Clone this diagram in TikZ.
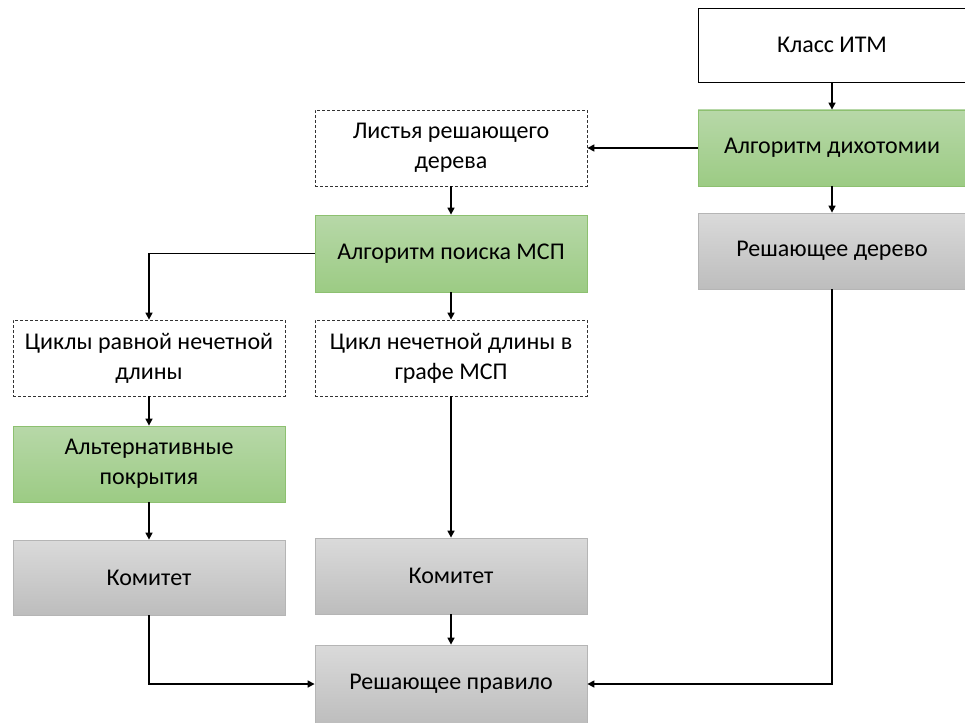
\documentclass[tikz,border=0pt]{standalone}
\usepackage{fontspec}
\setmainfont{Carlito}
\usetikzlibrary{arrows.meta}
\definecolor{gtop}{HTML}{B7D8A8}
\definecolor{gbot}{HTML}{9CCB84}
\definecolor{gbord}{HTML}{8DC070}
\definecolor{stop}{HTML}{DADADA}
\definecolor{sbot}{HTML}{BDBDBD}
\definecolor{sbord}{HTML}{B5B5B5}
\tikzset{
  box/.style={rectangle, minimum width=272pt, minimum height=76pt, align=center, inner sep=0pt, font=\fontsize{24}{30}\selectfont, line width=0.8pt},
  plainbox/.style={box, draw=black},
  dashbox/.style={box, draw=black!80, dashed, dash pattern=on 3pt off 2pt},
  greenbox/.style={box, draw=gbord, top color=gtop, bottom color=gbot},
  graybox/.style={box, draw=sbord, top color=stop, bottom color=sbot},
  conn/.style={line width=1.5pt, -{Triangle[length=7pt,width=7pt]}},
}
\begin{document}
\begin{tikzpicture}[x=1pt,y=-1pt]
\useasboundingbox (0,0) rectangle (965,722);
\node[plainbox, minimum width=268pt, minimum height=74pt] (klass) at (832,45) {Класс ИТМ};
\node[greenbox, minimum width=268pt] (dich) at (832,148) {Алгоритм дихотомии};
\node[graybox, minimum width=268pt] (tree) at (832,251) {Решающее дерево};
\node[dashbox] (leaves) at (451,148) {Листья решающего\\дерева};
\node[greenbox, minimum height=77pt] (msp) at (451,253.5) {Алгоритм поиска МСП};
\node[dashbox] (cyc) at (149,358) {Циклы равной нечетной\\длины};
\node[dashbox] (odd) at (451,358) {Цикл нечетной длины в\\графе МСП};
\node[greenbox] (alt) at (149,464) {Альтернативные\\покрытия};
\node[graybox, minimum height=75pt] (kom1) at (149,577.5) {Комитет};
\node[graybox] (kom2) at (451,576) {Комитет};
\node[graybox, minimum height=80pt] (rule) at (451,685) {};
\node[font=\fontsize{24}{30}\selectfont] (ruletext) at (451,684) {Решающее правило};
\draw[conn] (klass) -- (dich);
\draw[conn] (dich) -- (tree);
\draw[conn] (dich) -- (leaves);
\draw[conn] (leaves) -- (msp);
\draw[conn] (msp.west) -| (cyc.north);
\draw[conn] (msp) -- (odd);
\draw[conn] (cyc) -- (alt);
\draw[conn] (alt) -- (kom1);
\draw[conn] (odd) -- (kom2);
\draw[conn] (kom2) -- (rule);
\draw[conn] (kom1.south) |- (rule.west |- ruletext);
\draw[conn] (tree.south) |- (rule.east |- ruletext);
\end{tikzpicture}
\end{document}
